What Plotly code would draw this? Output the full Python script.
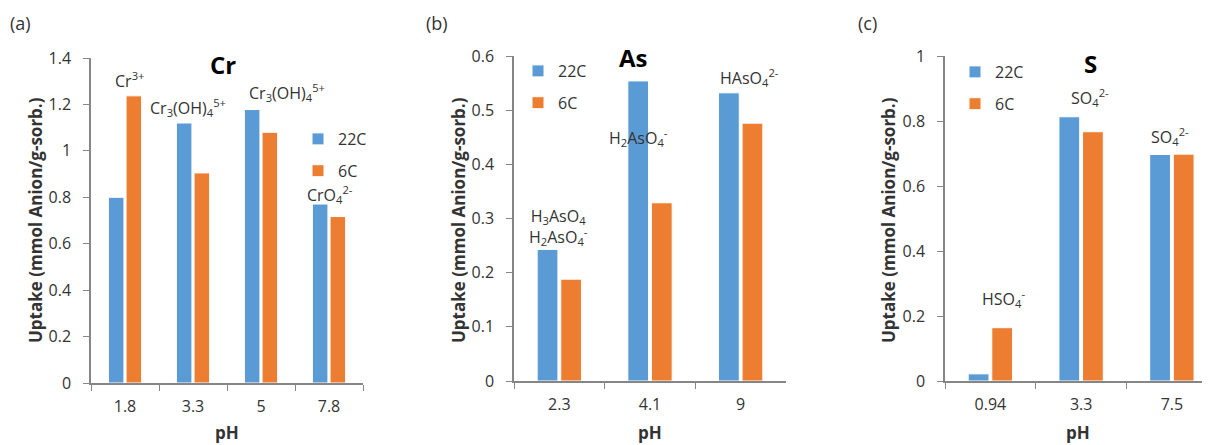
import plotly.graph_objects as go

# ---------------- data ----------------
ph_cr = ["1.8", "3.3", "5", "7.8"]
cr_22c = [0.80, 1.12, 1.178, 0.771]
cr_6c = [1.237, 0.905, 1.080, 0.717]

ph_as = ["2.3", "4.1", "9"]
as_22c = [0.243, 0.554, 0.532]
as_6c = [0.188, 0.329, 0.476]

ph_s = ["0.94", "3.3", "7.5"]
s_22c = [0.022, 0.813, 0.697]
s_6c = [0.164, 0.767, 0.698]

series_names = ["22C", "6C"]
colors = ["#5B9BD5", "#ED7D31"]

FONT = "Open Sans"
TXT = "#333333"
AX = "#868686"
FS = 16

fig = go.Figure()

panels = [
    (ph_cr, [cr_22c, cr_6c], "x", "y", "legend"),
    (ph_as, [as_22c, as_6c], "x2", "y2", "legend2"),
    (ph_s, [s_22c, s_6c], "x3", "y3", "legend3"),
]
for cats, vals, xa, ya, lg in panels:
    for i, (name, v) in enumerate(zip(series_names, vals)):
        fig.add_trace(go.Bar(
            x=cats, y=v, name=name, xaxis=xa, yaxis=ya,
            marker=dict(color=colors[i], line=dict(color="white", width=1)),
            legend=lg, legendgroup=lg + name, showlegend=True,
            hoverinfo="skip",
        ))

# The page body has an 8px margin, so the figure is sized to fit the 1210x445 window
OFF = 8
W, H = 1210 - OFF, 445 - OFF


def px(x):
    return (x - OFF) / W


def py(y):
    return 1 - (y - OFF) / H


xcommon = dict(type="category", showline=True, linecolor=AX, linewidth=1.5,
               ticks="outside", tickson="boundaries", ticklen=6, tickcolor=AX,
               tickfont=dict(family=FONT, size=FS, color=TXT), showgrid=False,
               zeroline=False, ticklabelstandoff=8, automargin=False)
ycommon = dict(showline=True, linecolor=AX, linewidth=1.5, ticks="outside",
               ticklen=6, tickcolor=AX, showgrid=False, zeroline=False,
               tickfont=dict(family=FONT, size=FS, color=TXT), ticklabelstandoff=9,
               automargin=False)

legcommon = dict(font=dict(family=FONT, size=FS, color=TXT), bgcolor="rgba(0,0,0,0)",
                 traceorder="grouped", tracegroupgap=8, itemwidth=30,
                 xanchor="left", yanchor="top", borderwidth=0)

fig.update_layout(
    width=W, height=H,
    margin=dict(l=0, r=0, t=0, b=0, pad=0, autoexpand=False),
    paper_bgcolor="white", plot_bgcolor="white",
    barmode="group", bargap=0.48, bargroupgap=0.12,
    showlegend=True,
    xaxis=dict(domain=[px(91), px(363)], anchor="y", **xcommon),
    yaxis=dict(domain=[py(383), py(58)], anchor="x", range=[0, 1.4], dtick=0.2, **ycommon),
    xaxis2=dict(domain=[px(514), px(786)], anchor="y2", **xcommon),
    yaxis2=dict(domain=[py(381), py(56)], anchor="x2", range=[0, 0.6], dtick=0.1, **ycommon),
    xaxis3=dict(domain=[px(945), 1.0], anchor="y3", range=[-0.5, 2.42], **xcommon),
    yaxis3=dict(domain=[py(381), py(56)], anchor="x3", range=[0, 1.0], dtick=0.2, **ycommon),
    legend=dict(x=px(298), y=py(122), **legcommon),
    legend2=dict(x=px(518), y=py(54), **legcommon),
    legend3=dict(x=px(955), y=py(55), **legcommon),
)

ann = []
# panel letters
for t, x in [("(a)", 20), ("(b)", 437), ("(c)", 867)]:
    ann.append(dict(text=t, x=px(x), y=py(23), xref="paper", yref="paper", showarrow=False,
                    font=dict(family=FONT, size=18, color=TXT), xanchor="center", yanchor="middle"))
# panel titles
for t, x, y in [("Cr", 223, 64), ("As", 633, 58), ("S", 1090, 63)]:
    ann.append(dict(text="<b>%s</b>" % t, x=px(x), y=py(y), xref="paper", yref="paper",
                    showarrow=False, font=dict(family=FONT, size=24, color="black"),
                    xanchor="center", yanchor="middle"))
# y titles
for x in [35, 458, 888]:
    ann.append(dict(text="<b>Uptake (mmol Anion/g-sorb.)</b>", x=px(x), y=py(220), xref="paper",
                    yref="paper", showarrow=False, textangle=-90,
                    font=dict(family=FONT, size=17, color=TXT), xanchor="center", yanchor="middle"))
# x titles
for x in [227, 650, 1078]:
    ann.append(dict(text="<b>pH</b>", x=px(x), y=py(432), xref="paper", yref="paper",
                    showarrow=False, font=dict(family=FONT, size=17, color=TXT),
                    xanchor="center", yanchor="middle"))

# species labels (data coordinates)
lab = dict(showarrow=False, font=dict(family=FONT, size=FS, color=TXT),
           xanchor="center", yanchor="middle")
species = [
    ("x", "y", 0.07, 1.305, "Cr<sup>3+</sup>"),
    ("x", "y", 0.93, 1.185, "Cr<sub>3</sub>(OH)<sub>4</sub><sup>5+</sup>"),
    ("x", "y", 2.38, 1.25, "Cr<sub>3</sub>(OH)<sub>4</sub><sup>5+</sup>"),
    ("x", "y", 3.01, 0.81, "CrO<sub>4</sub><sup>2-</sup>"),
    ("x2", "y2", 2.10, 0.561, "HAsO<sub>4</sub><sup>2-</sup>"),
    ("x2", "y2", 0.87, 0.45, "H<sub>2</sub>AsO<sub>4</sub><sup>-</sup>"),
    ("x2", "y2", -0.01, 0.284, "H<sub>3</sub>AsO<sub>4</sub><br>H<sub>2</sub>AsO<sub>4</sub><sup>-</sup>"),
    ("x3", "y3", 1.10, 0.871, "SO<sub>4</sub><sup>2-</sup>"),
    ("x3", "y3", 1.98, 0.751, "SO<sub>4</sub><sup>2-</sup>"),
    ("x3", "y3", 0.14, 0.255, "HSO<sub>4</sub><sup>-</sup>"),
]
for xr, yr, x, y, t in species:
    ann.append(dict(text=t, x=x, y=y, xref=xr, yref=yr, **lab))

fig.update_layout(annotations=ann)
fig.write_html("out.html")
